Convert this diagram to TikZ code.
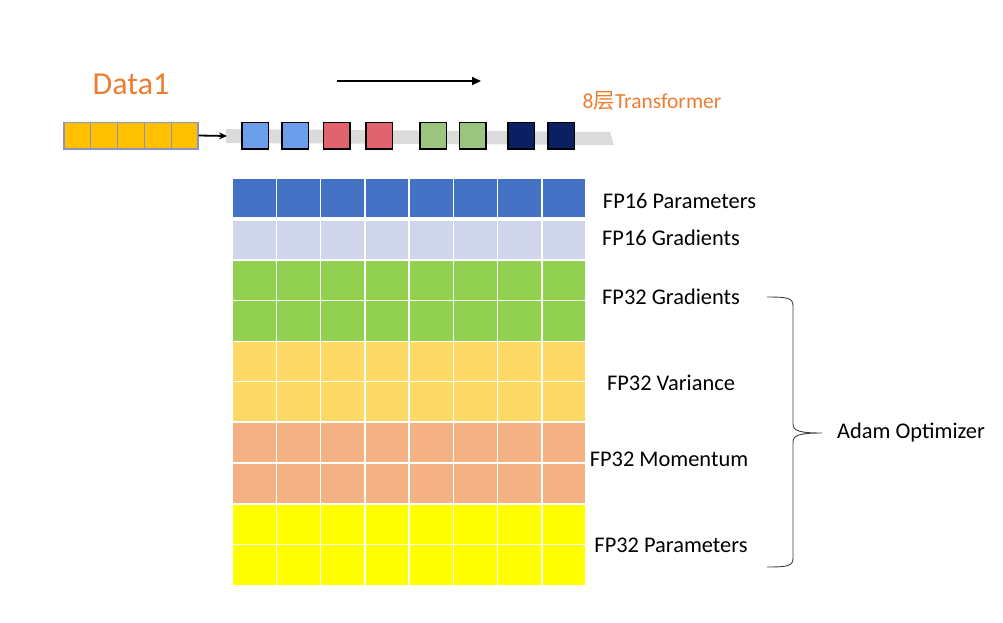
\documentclass[tikz,border=0pt]{standalone}
\usepackage{fontspec}
\setmainfont{Carlito}
\newfontfamily\cjk{Noto Sans CJK SC}
\usetikzlibrary{arrows.meta}
\definecolor{cBlue}{HTML}{4472C4}
\definecolor{cLight}{HTML}{CFD5EA}
\definecolor{cGreen}{HTML}{92D050}
\definecolor{cVar}{HTML}{FFD966}
\definecolor{cMom}{HTML}{F4B183}
\definecolor{cYel}{HTML}{FFFF00}
\definecolor{cOrange}{HTML}{ED7D31}
\definecolor{cGold}{HTML}{FFC000}
\definecolor{cGoldEdge}{HTML}{8E93BF}
\definecolor{lBlue}{HTML}{6D9EEB}
\definecolor{lRed}{HTML}{E0636D}
\definecolor{lGreen}{HTML}{9BC47E}
\definecolor{lNavy}{HTML}{0B1F63}
\begin{document}
\begin{tikzpicture}[x=1pt,y=-1pt,
  databox/.style={draw=cGoldEdge,line width=1.2pt,fill=cGold,minimum size=26.8pt,inner sep=0pt},
  layerbox/.style={draw=black,line width=1.5pt,minimum size=26.5pt,inner sep=0pt},
  cell/.style={draw=white,line width=1.5pt},
  lbl/.style={font=\fontsize{22.4}{24}\selectfont,inner sep=0pt},
  arr/.style={line width=1.8pt,-{Stealth[length=8pt,width=7pt]}}]
\useasboundingbox (0,0) rectangle (1003,622);

% title texts
\node[text=cOrange,font=\fontsize{32}{34}\selectfont,inner sep=0pt] (data) at (131,84) {Data1};
\node[text=cOrange,font=\fontsize{21.5}{23}\selectfont,inner sep=0pt] (tf) at (652,101) {8{\cjk 层}Transformer};

% top direction arrow
\coordinate (ta) at (337,81);
\coordinate (tb) at (481,81);
\draw[line width=2pt,-{Triangle[length=9pt,width=8pt]}] (ta) -- (tb);

% gray bar
\fill[gray!28] (226,129) -- (610,132) -- (614,145) -- (226,143) -- cycle;

% data boxes
\foreach \i/\x in {1/77.4,2/104.2,3/131,4/157.8,5/184.6}
  \node[databox] (d\i) at (\x,135.5) {};
\coordinate (barstart) at (227,136);
\draw[arr] (d5.east) -- (barstart);

% layer boxes
\node[layerbox,fill=lBlue]  (l1) at (255.2,135.5) {};
\node[layerbox,fill=lBlue]  (l2) at (295.4,135.5) {};
\node[layerbox,fill=lRed]   (l3) at (336.7,135.5) {};
\node[layerbox,fill=lRed]   (l4) at (379.3,135.5) {};
\node[layerbox,fill=lGreen] (l5) at (433.0,135.5) {};
\node[layerbox,fill=lGreen] (l6) at (472.5,135.5) {};
\node[layerbox,fill=lNavy]  (l7) at (521.3,135.5) {};
\node[layerbox,fill=lNavy]  (l8) at (561.0,135.5) {};

% memory grid
\foreach \y/\h/\c in {178/39.5/cBlue,220.5/39.5/cLight,260/40.5/cGreen,300.5/41/cGreen,341.5/40/cVar,381.5/40.5/cVar,422/41/cMom,463/41/cMom,504/40.5/cYel,544.5/41/cYel}{
  \foreach \k in {0,...,7}{
    \filldraw[cell,fill=\c] ({232+44.25*\k},\y) rectangle ({232+44.25*(\k+1)},{\y+\h});
  }
}

% labels
\node[lbl] (p16) at (679.5,201) {FP16 Parameters};
\node[lbl] (g16) at (671,238) {FP16 Gradients};
\node[lbl] (g32) at (671,297) {FP32 Gradients};
\node[lbl] (v32) at (671,383) {FP32 Variance};
\node[lbl] (m32) at (669,459) {FP32 Momentum};
\node[lbl] (p32) at (671,545) {FP32 Parameters};
\node[lbl,anchor=west] (adam) at (837,433) {Adam Optimizer};

% brace
\draw[line width=0.9pt,black!75] (767,297) .. controls (788,297) and (793,298) .. (793,306)
  -- (793,424) .. controls (793,431) and (800,433) .. (822,433)
  .. controls (800,433) and (793,435) .. (793,442)
  -- (793,558) .. controls (793,566) and (788,567) .. (767,567);
\end{tikzpicture}
\end{document}
